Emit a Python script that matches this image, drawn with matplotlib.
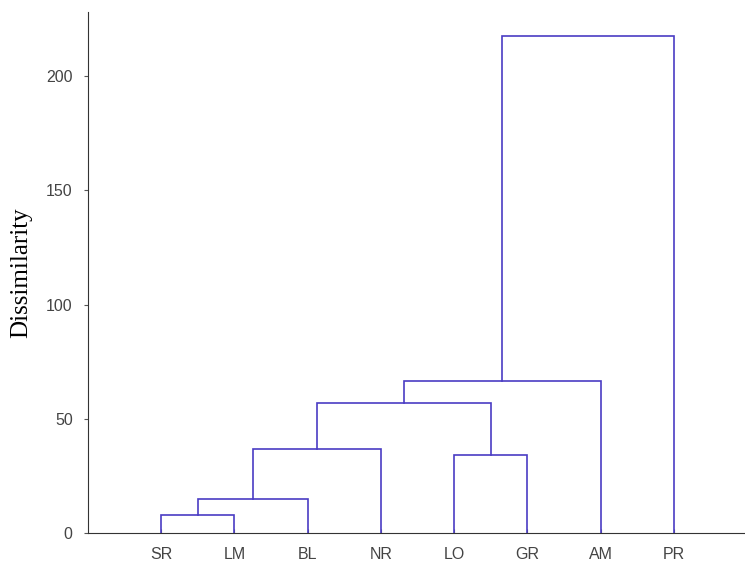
import matplotlib
matplotlib.use('Agg')
import matplotlib.pyplot as plt

# Hojas del dendrograma (orden de izquierda a derecha)
hojas = ['SR', 'LM', 'BL', 'NR', 'LO', 'GR', 'AM', 'PR']

# Uniones estilo linkage: cluster izquierdo, cluster derecho, altura
union_izq = [0, 8, 9, 4, 10, 12, 13]
union_der = [1, 2, 3, 5, 11, 6, 7]
alturas = [7.9, 14.8, 36.7, 34.0, 56.8, 66.4, 217.5]

color_linea = '#4a3cc4'

fig = plt.figure(figsize=(7.45, 5.71), dpi=100)
ax = fig.add_axes([0.118, 0.0665, 0.88, 0.912])

# posiciones y alturas de cada cluster
pos_x = {i: i + 1 for i in range(len(hojas))}
pos_y = {i: 0.0 for i in range(len(hojas))}

for k, (a, b, h) in enumerate(zip(union_izq, union_der, alturas)):
    xa, xb = pos_x[a], pos_x[b]
    ya, yb = pos_y[a], pos_y[b]
    ax.plot([xa, xa, xb, xb], [ya, h, h, yb], color=color_linea, lw=1.2,
            solid_joinstyle='miter')
    nuevo = len(hojas) + k
    pos_x[nuevo] = (xa + xb) / 2
    pos_y[nuevo] = h

ax.set_xlim(0, 8.95)
ax.set_ylim(0, 228)
ax.set_xticks(range(1, len(hojas) + 1))
ax.set_xticklabels(hojas)
ax.set_yticks([0, 50, 100, 150, 200])

for lbl in ax.get_xticklabels() + ax.get_yticklabels():
    lbl.set_family('Liberation Sans')
    lbl.set_fontsize(11.5)
    lbl.set_color('#444444')

ax.set_ylabel('Dissimilarity', family='Liberation Serif', fontsize=18,
              labelpad=10)

ax.spines['top'].set_visible(False)
ax.spines['right'].set_visible(False)
ax.spines['left'].set_color('#333333')
ax.spines['bottom'].set_color('#333333')
ax.tick_params(axis='y', direction='out', length=3, color='#555555', pad=8)
ax.tick_params(axis='x', direction='in', length=3, color='#555555', pad=10)

fig.savefig('out.png', dpi=100)
